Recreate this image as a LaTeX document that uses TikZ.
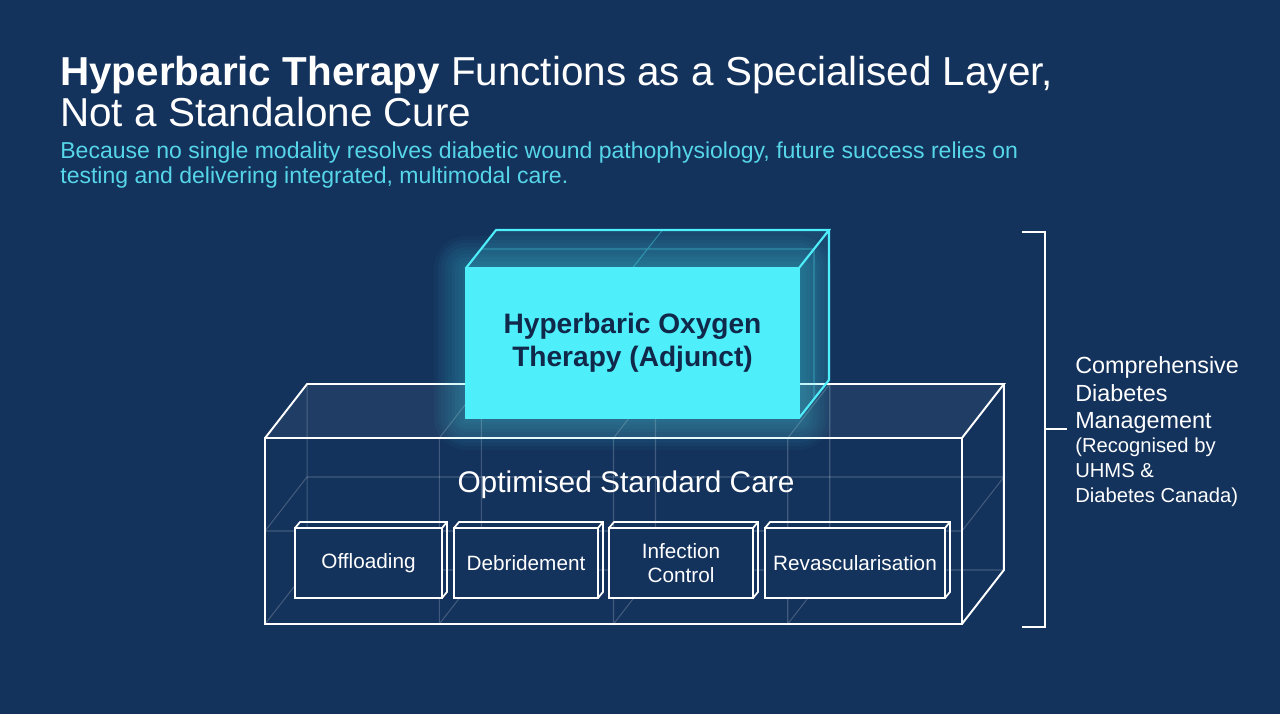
\documentclass[tikz,border=0pt]{standalone}
\usepackage{fontspec}
\setmainfont{Liberation Sans}
\usepackage{xcolor}
\usepackage{tikz}
\usetikzlibrary{calc}
\definecolor{navy}{RGB}{19, 50, 92}
\definecolor{glow}{RGB}{78, 238, 250}
\definecolor{subcyan}{RGB}{86, 214, 232}
\definecolor{ink}{RGB}{16, 40, 74}

\begin{document}
\begin{tikzpicture}[
    x=0.02cm, y=-0.02cm,
    wire/.style={draw=white, line width=1.1pt, outer sep=0pt},
    faint/.style={draw=white, opacity=0.2, line width=0.6pt},
    smallbox/.style={draw=white, fill=navy, line width=1pt, outer sep=0pt, minimum height=1.4cm, inner sep=0pt, align=center, text=white, font=\fontsize{11.8}{13.6}\selectfont},
    heading/.style={anchor=base west, inner sep=0pt, text=white, font=\fontsize{23}{23}\selectfont},
    subheading/.style={anchor=base west, inner sep=0pt, text=subcyan, font=\fontsize{13.1}{13.1}\selectfont},
    bracket/.style={draw=white, line width=1pt}
]
    % Background
    \fill[navy] (0,0) rectangle (1280,714);
    \useasboundingbox (0,0) rectangle (1280,714);

    % Title
    \node[heading] (title1) at (60,85) {\textbf{Hyperbaric Therapy} Functions as a Specialised Layer,};
    \node[heading] (title2) at (60,126) {Not a Standalone Cure};
    \node[subheading] (sub1) at (60,158) {Because no single modality resolves diabetic wound pathophysiology, future success relies on};
    \node[subheading] (sub2) at (60,183) {testing and delivering integrated, multimodal care.};

    % Standard care block
    \node[wire, minimum width=13.94cm, minimum height=3.72cm] (care) at (613.5,531) {};
    \path (care.north west) ++(42,-54) coordinate (care-bnw);
    \path (care.north east) ++(42,-54) coordinate (care-bne);
    \path (care.south east) ++(42,-54) coordinate (care-bse);
    \path (care.south west) ++(42,-54) coordinate (care-bsw);
    \fill[white, opacity=0.06] (care.north west) -- (care-bnw) -- (care-bne) -- (care.north east) -- cycle;
    \draw[faint] (care-bnw) -- (care-bsw) -- (care-bse) (care-bsw) -- (care.south west);
    \draw[faint] (care.west) -- (care.east) -- ++(42,-54) -- ++(-697,0) -- cycle;
    \foreach \f in {0.25,0.5,0.75}
        \draw[faint] ($(care.south west)!\f!(care.south east)$) -- ($(care.north west)!\f!(care.north east)$) -- ++(42,-54) -- ++(0,186) -- cycle;
    \draw[wire] (care.north west) -- (care-bnw) -- (care-bne) -- (care.north east);
    \draw[wire] (care-bne) -- (care-bse) -- (care.south east);
    \node[text=white, font=\fontsize{17}{17}\selectfont] (carelabel) at (626,485) {Optimised Standard Care};

    % Treatment blocks
    \node[smallbox, minimum width=2.94cm] (offload) at (368.5,563) {Offloading};
    \node[smallbox, minimum width=2.88cm] (debride) at (526,563) {Debridement};
    \node[smallbox, minimum width=2.88cm] (infect) at (681,563) {Infection\\Control};
    \node[smallbox, minimum width=3.6cm] (revasc) at (855,563) {Revascularisation};
    \foreach \b in {offload,debride,infect,revasc}
        \draw[white, line width=1pt] (\b.north west) -- ++(5,-6) -| ($(\b.south east)+(5,-6)$) -- (\b.south east)
            (\b.north east) -- ++(5,-6);

    % Oxygen therapy block
    \node[draw=glow, fill=glow, line width=1.2pt, outer sep=0pt, minimum width=6.66cm, minimum height=3cm,
        align=center, text=ink, font=\bfseries\fontsize{16}{18.8}\selectfont] (hbot) at (632.5,343) {Hyperbaric Oxygen\\Therapy (Adjunct)};
    \foreach \w in {4,8,...,36}
        \draw[glow, line width=\w pt, opacity=0.035, line join=round] (hbot.north west) rectangle (hbot.south east);
    \path (hbot.north west) ++(30,-38) coordinate (hbot-bnw);
    \path (hbot.north east) ++(30,-38) coordinate (hbot-bne);
    \path (hbot.south east) ++(30,-38) coordinate (hbot-bse);
    \fill[glow, opacity=0.12] (hbot.north west) -- (hbot-bnw) -- (hbot-bne) -- (hbot-bse) -- (hbot.south east) -- (hbot.north east) -- cycle;
    \draw[glow, opacity=0.35, line width=0.6pt] (hbot.north) -- ++(30,-38)
        ($(hbot.north west)!0.5!(hbot-bnw)$) -- ($(hbot.north east)!0.5!(hbot-bne)$) -- ($(hbot.south east)!0.5!(hbot-bse)$);
    \draw[glow, line width=1.2pt] (hbot.north west) -- (hbot-bnw) -- (hbot-bne) -- (hbot.north east)
        (hbot-bne) -- (hbot-bse) -- (hbot.south east);

    % Scope bracket
    \coordinate (brtop) at (1022,232);
    \coordinate (brbot) at (1022,627);
    \coordinate (brmid) at (1045,429);
    \draw[bracket] (brtop) -- (brtop -| brmid) -- (brbot -| brmid) -- (brbot);
    \node[anchor=west, inner xsep=4.5pt, inner ysep=0pt, align=left, text=white, font=\fontsize{13.3}{15.4}\selectfont] (scope) at (1067,395) {Comprehensive\\Diabetes\\Management};
    \node[anchor=west, inner xsep=4.5pt, inner ysep=0pt, align=left, text=white, font=\fontsize{11.5}{14.2}\selectfont] (scopenote) at (1067,472.5) {(Recognised by\\UHMS \&\\Diabetes Canada)};
    \draw[bracket] (brmid) -- (brmid -| scope.west);
\end{tikzpicture}
\end{document}
